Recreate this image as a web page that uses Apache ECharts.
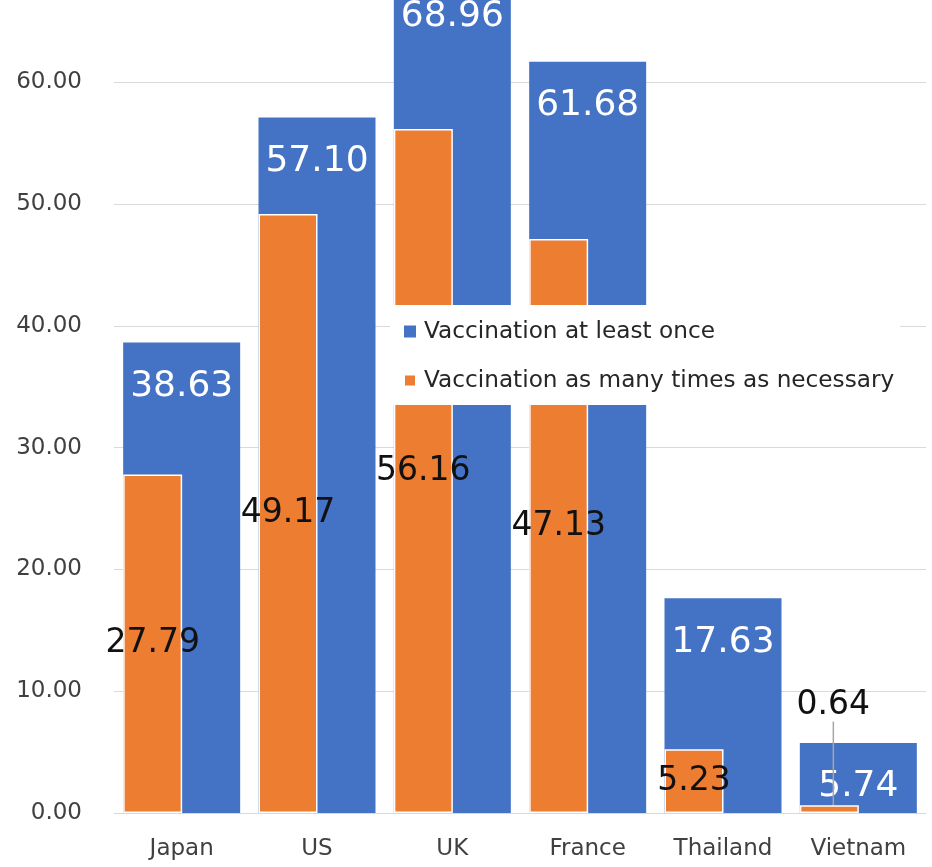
<!DOCTYPE html>
<html>
<head>
<meta charset="utf-8">
<script src="https://cdn.jsdelivr.net/npm/echarts@6/dist/echarts.min.js"></script>
<style>
  html, body { margin: 0; padding: 0; background: #fff; }
  #chart { width: 932px; height: 867px; }
</style>
</head>
<body>
<div id="chart"></div>
<script>
const countries = ['Japan', 'US', 'UK', 'France', 'Thailand', 'Vietnam'];
const atLeastOnce = [38.63, 57.10, 68.96, 61.68, 17.63, 5.74];
const asNecessary = [27.79, 49.17, 56.16, 47.13, 5.23, 0.64];
const seriesNames = ['Vaccination at least once', 'Vaccination as many times as necessary'];

const FONT = '"DejaVu Sans", Verdana, sans-serif';
const chart = echarts.init(document.getElementById('chart'));

// the original picture is cropped at the top, so the value axis ends at ~66.7
const option = {
  animation: false,
  grid: { left: 114, right: 6, top: 0, bottom: 54 },
  legend: {
    data: seriesNames,
    orient: 'vertical',
    left: 390,
    top: 305,
    padding: [15, 6, 13, 13],
    backgroundColor: '#fff',
    icon: 'rect',
    itemWidth: 12,
    itemHeight: 12,
    itemGap: 26,
    textStyle: { fontFamily: FONT, fontSize: 23.2, color: '#262626', padding: [0, 0, 0, 3] }
  },
  xAxis: {
    type: 'category',
    data: countries,
    axisLine: { lineStyle: { color: '#d9d9d9', width: 1 } },
    axisTick: { show: false },
    axisLabel: { fontFamily: FONT, fontSize: 23, color: '#404040', margin: 25 }
  },
  yAxis: {
    type: 'value',
    min: 0,
    max: 66.75,
    interval: 10,
    axisLine: { show: false },
    axisTick: { show: false },
    splitLine: { showMaxLine: false, lineStyle: { color: '#d9d9d9', width: 1 } },
    axisLabel: {
      fontFamily: FONT, fontSize: 23, color: '#404040', margin: 32,
      showMaxLabel: false,
      formatter: v => (v % 10 === 0 ? v.toFixed(2) : '')
    }
  },
  series: [
    {
      name: seriesNames[1],
      type: 'bar',
      data: asNecessary,
      barWidth: 59,
      barGap: '-100%',
      z: 3,
      itemStyle: { color: '#ED7D31', borderColor: '#fff', borderWidth: 1.5 },
      label: {
        show: true,
        position: 'inside',
        offset: [0, 2],
        fontFamily: FONT,
        fontSize: 33,
        color: '#111',
        formatter: p => p.value.toFixed(2)
      },
      labelLayout: function (params) {
        if (params.dataIndex === 5) {
          return { dx: 4, dy: -104 };
        }
        return {};
      },
      labelLine: { show: true, lineStyle: { color: '#a6a6a6', width: 1.5 } }
    },
    {
      name: seriesNames[0],
      type: 'bar',
      data: atLeastOnce,
      barWidth: 117,
      barGap: '-100%',
      clip: false,
      z: 2,
      itemStyle: { color: '#4472C4' },
      label: {
        show: true,
        position: 'insideTop',
        distance: 26,
        fontFamily: FONT,
        fontSize: 36,
        color: '#fff',
        formatter: p => p.value.toFixed(2)
      }
    }
  ]
};

chart.setOption(option);
</script>
</body>
</html>
